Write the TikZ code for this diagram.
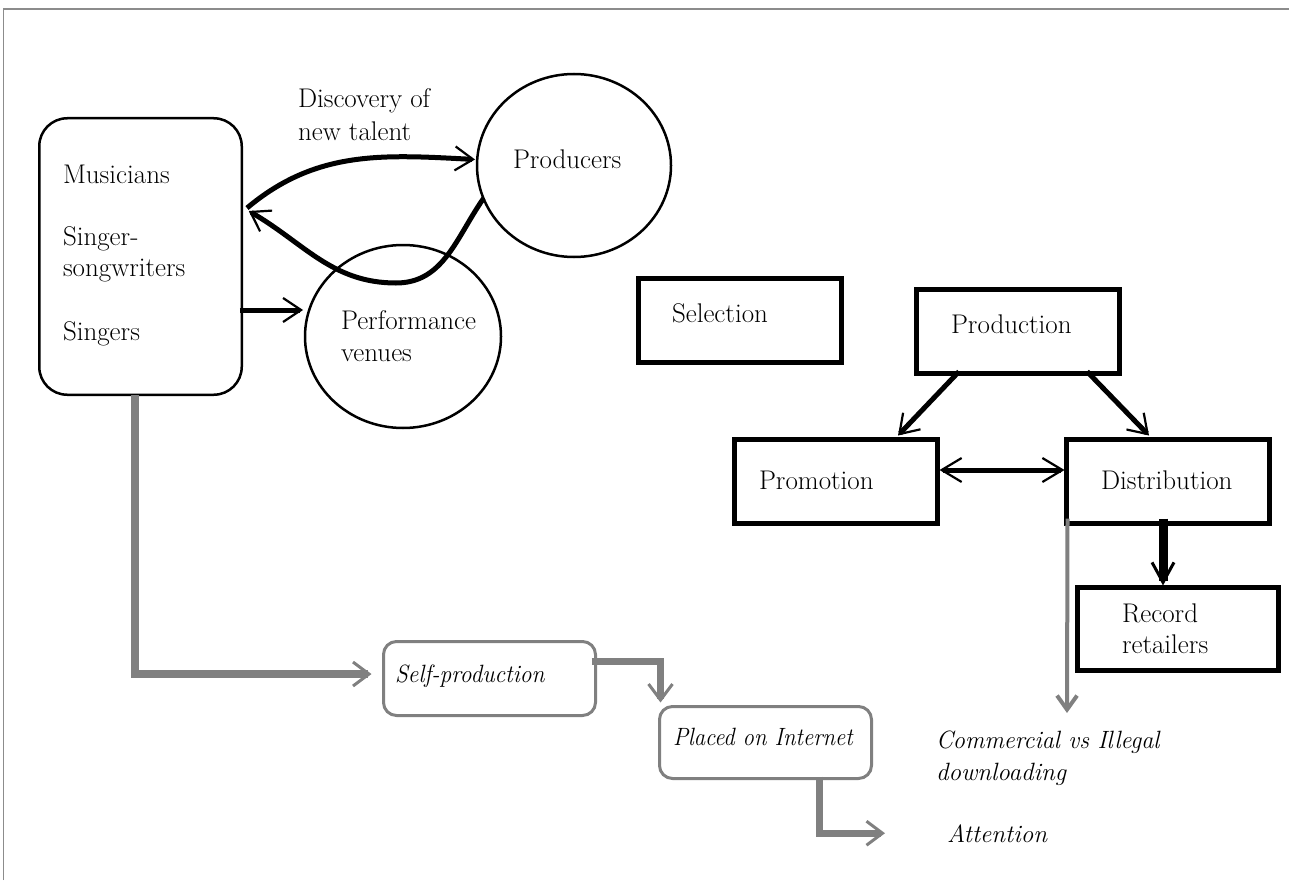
\documentclass[tikz,border=0pt]{standalone}
\usetikzlibrary{shapes.geometric,arrows.meta,calc}
\definecolor{linegray}{RGB}{128,128,128}
\definecolor{framegray}{RGB}{140,140,140}
\begin{document}
\begin{tikzpicture}[x=1pt,y=-1pt,
  every node/.style={inner sep=0pt, outer sep=0pt},
  lbl/.style={anchor=base west, font=\fontsize{27}{32}\selectfont},
  ilbl/.style={anchor=base west, font=\fontsize{25}{32}\selectfont\itshape},
  blkbox/.style={draw, line width=5pt, minimum width=203pt, minimum height=84pt},
  circ/.style={draw, ellipse, line width=2.5pt},
  graybox/.style={draw=linegray, line width=3pt, rounded corners=13pt, minimum width=212pt, minimum height=74pt},
  karrow/.style={line width=5pt, -{Straight Barb[length=18pt,width=24pt,line width=2.2pt]}},
  kdarrow/.style={line width=5pt, {Straight Barb[length=20pt,width=24pt,line width=2.2pt]}-{Straight Barb[length=20pt,width=24pt,line width=2.2pt]}},
  kfat/.style={line width=9pt, -{Straight Barb[length=20pt,width=22pt,line width=3pt]}},
  garrow/.style={draw=linegray, line width=8pt, line join=miter, -{Straight Barb[length=16pt,width=24pt,line width=3pt]}},
  gthin/.style={draw=linegray, line width=4pt, -{Straight Barb[length=14pt,width=20pt,line width=4pt]}}
]
\useasboundingbox (0,0) rectangle (1289,880);
% frame
\draw[framegray, line width=1.5pt] (3.5,880) -- (3.5,9) -- (1289,9);

% left group
\node[draw, rounded corners=28pt, line width=2.5pt, minimum width=202.5pt, minimum height=276.5pt] (mus) at (140.5,256.5) {};
\node[lbl] (m1) at (63,183) {Musicians};
\node[lbl] (m2) at (63,245) {Singer-};
\node[lbl] (m3) at (63,276) {songwriters};
\node[lbl] (m4) at (63,340) {Singers};

\node[circ, minimum width=194pt, minimum height=183pt] (prod) at (574,165.5) {};
\node[lbl] (prodt) at (513,168) {Producers};
\node[circ, minimum width=196pt, minimum height=183pt] (venue) at (403,336.5) {};
\node[lbl] (ven1) at (341,329) {Performance};
\node[lbl] (ven2) at (341,361) {venues};
\node[lbl] (disc1) at (298,108) {Discovery of};
\node[lbl] (disc2) at (298,140) {new talent};

% right group
\node[blkbox] (sel) at (740,320) {};
\node[lbl] (selt) at (672,322) {Selection};
\node[blkbox] (production) at (1018,331.5) {};
\node[lbl] (productiont) at (951,333) {Production};
\node[blkbox] (promo) at (836,481.5) {};
\node[lbl] (promot) at (759,489) {Promotion};
\node[blkbox] (distr) at (1168,481.5) {};
\node[lbl] (distrt) at (1101,489) {Distribution};
\node[blkbox, minimum width=201pt, minimum height=83pt] (rec) at (1178,629) {};
\node[lbl] (rec1) at (1122,622) {Record};
\node[lbl] (rec2) at (1122,653) {retailers};

% gray group
\node[graybox] (selfp) at (489.5,678.5) {};
\node[ilbl] (selfpt) at (395,682) {\scalebox{0.94}[1]{Self-production}};
\node[graybox, minimum height=72pt] (inet) at (765.5,742.5) {};
\node[ilbl] (inett) at (673,745) {\scalebox{0.91}[1]{Placed on Internet}};
\node[ilbl] (comm1) at (936,748) {\scalebox{0.97}[1]{Commercial vs Illegal}};
\node[ilbl] (comm2) at (936,780) {downloading};
\node[ilbl] (att) at (947,842) {Attention};

% black connectors
\draw[karrow] ($(mus.north east)+(5.25,89.75)$) to[out=40,in=177] ($(prod.west)+(-2,-6)$);
\draw[karrow] (prod.200) to[out=235,in=0] (396,283) to[out=180,in=-30] ($(mus.north east)+(7,92.75)$);
\draw[karrow] ($(mus.east)+(-2,53.5)$) -- ($(venue.west)+(-2,-26.5)$);
\draw[karrow] ($(production.south)+(-59,-2)$) -- ($(promo.north)+(62,-4)$);
\draw[karrow] ($(production.south)+(69,-2)$) -- ($(distr.north)+(-19,-4)$);
\draw[kdarrow] ($(promo.east)+(2,-11.5)$) -- ($(distr.west)+(-2,-11.5)$);
\draw[kfat] ($(distr.south)+(-5,-5)$) -- ($(rec.north)+(-15,-2)$);

% gray connectors
\draw[garrow] ($(mus.south west)+(95.75,0)$) |- ($(selfp.west)+(-12,-4.5)$);
\draw[garrow, line width=7pt] ($(selfp.north east)+(-4,20)$) -| ($(inet.north west)+(1,-4)$);
\draw[garrow, line width=7pt] ($(inet.south east)+(-52,-2)$) |- ($(att.west)+(-62,0)$);
\draw[gthin] ($(distr.south west)+(1,-5)$) -- ($(comm1.base west)+(131,-35)$);
\end{tikzpicture}
\end{document}
